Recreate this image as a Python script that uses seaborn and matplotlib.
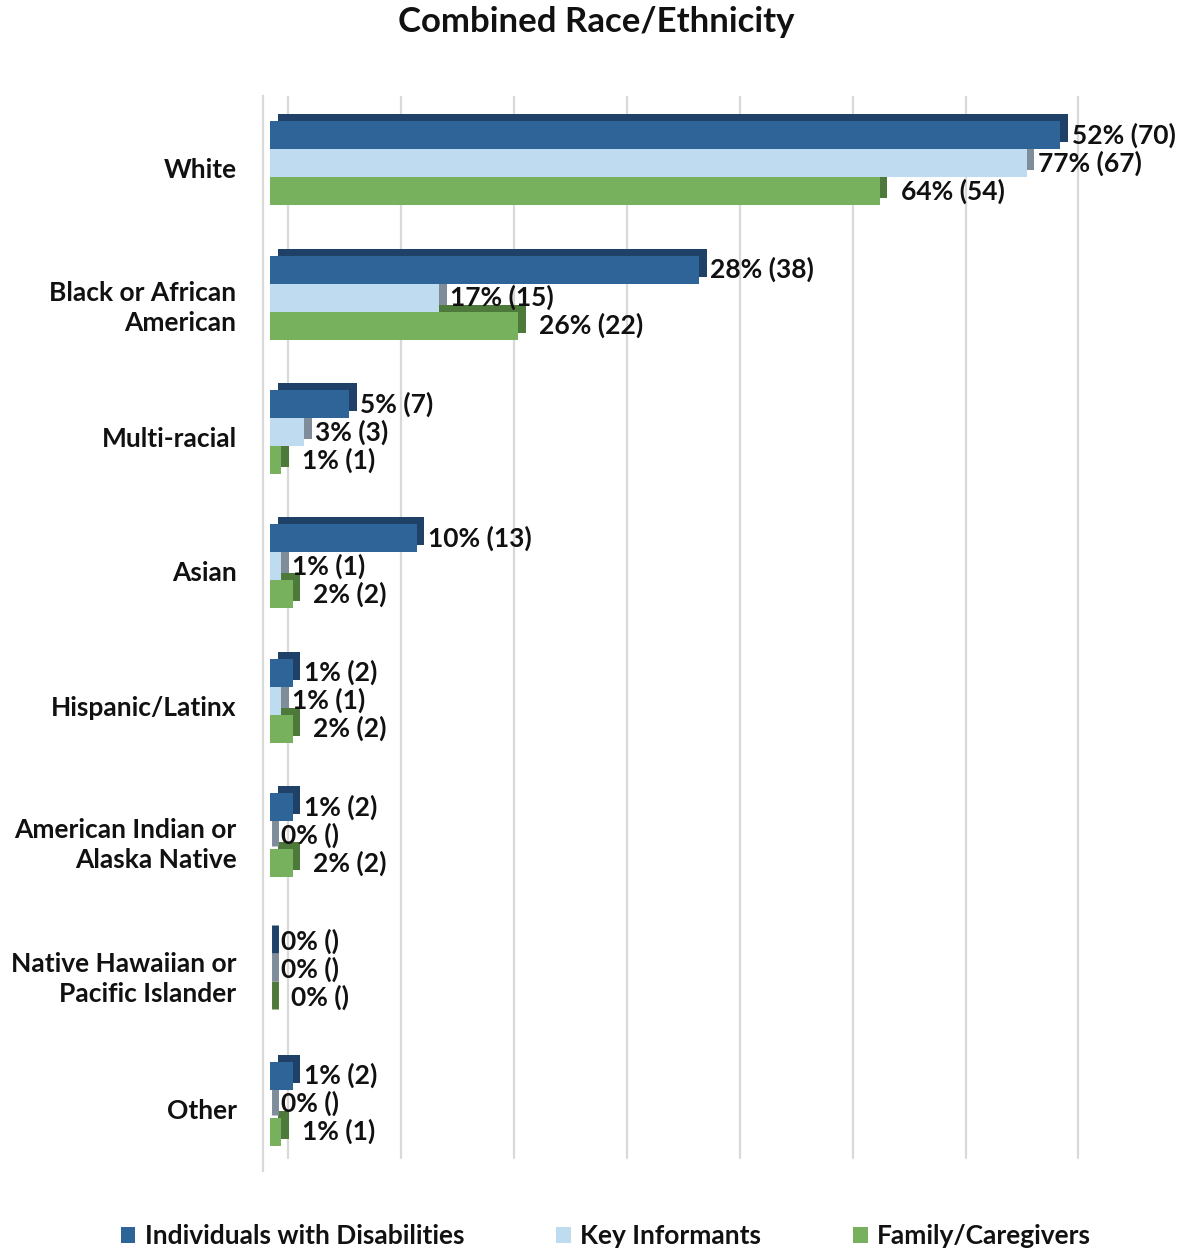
import numpy as np
import pandas as pd
import matplotlib
matplotlib.use("Agg")
import matplotlib.pyplot as plt
import matplotlib.patheffects as pe
import matplotlib.transforms as mtransforms
from matplotlib.patches import Patch
import seaborn as sns

# ---- data -------------------------------------------------------------
categories = [
    "White",
    "Black or African\nAmerican",
    "Multi-racial",
    "Asian",
    "Hispanic/Latinx",
    "American Indian or\nAlaska Native",
    "Native Hawaiian or\nPacific Islander",
    "Other",
]
groups = ["Individuals with Disabilities", "Key Informants", "Family/Caregivers"]

individuals_n = [70, 38, 7, 13, 2, 2, 0, 2]
individuals_pct = [52, 28, 5, 10, 1, 1, 0, 1]
informants_n = [67, 15, 3, 1, 1, 0, 0, 0]
informants_pct = [77, 17, 3, 1, 1, 0, 0, 0]
family_n = [54, 22, 1, 2, 2, 2, 0, 1]
family_pct = [64, 26, 1, 2, 2, 2, 0, 1]

counts = [individuals_n, informants_n, family_n]
pcts = [individuals_pct, informants_pct, family_pct]

face_colors = ["#2E6497", "#BFDBEF", "#77B15E"]
side_colors = ["#1F4168", "#7F8C9A", "#4D7A3A"]
label_pads = [8, 8, 15]
grid_color = "#D9D9D9"
text_color = "#111111"

rows = []
for g, ns in zip(groups, counts):
    for c, n in zip(categories, ns):
        rows.append({"category": c, "group": g, "count": n})
df = pd.DataFrame(rows)

# ---- style ------------------------------------------------------------
sns.set_theme(style="white")
plt.rcParams["font.family"] = ["Lato", "DejaVu Sans"]
plt.rcParams["font.weight"] = "bold"

W, H = 1180, 1249
fig = plt.figure(figsize=(W / 100, H / 100), dpi=100)
fig.patch.set_facecolor("white")
ax_left, ax_right, ax_top, ax_bottom = 263, 1100, 96, 1171
ax = fig.add_axes([ax_left / W, 1 - ax_bottom / H,
                   (ax_right - ax_left) / W, (ax_bottom - ax_top) / H])

sns.barplot(
    data=df, x="count", y="category", hue="group", hue_order=groups,
    order=categories, palette=face_colors, orient="h", width=0.625, gap=0,
    errorbar=None, saturation=1, linewidth=0, legend=False, ax=ax,
)

ax.set_xlim(-0.62, 73.5)
ax.set_ylim(len(categories) - 0.5, -0.5)
ax.set_xlabel("")
ax.set_ylabel("")

# extruded look: darker offset copy behind each bar
for i, cont in enumerate(ax.containers):
    for bar in cont:
        bar.set_zorder(3 - 0.1 * i)
        if bar.get_width() > 0:
            bar.set_path_effects([
                pe.SimplePatchShadow(offset=(5.5, 5), shadow_rgbFace=side_colors[i], alpha=1),
                pe.Normal(),
            ])
        else:
            bar.set_path_effects([
                pe.Stroke(offset=(3.5, 2), linewidth=5, foreground=side_colors[i]),
            ])
    labels = [f"{p}% ({n})" if n > 0 else f"{p}% ()" for p, n in zip(pcts[i], counts[i])]
    ax.bar_label(cont, labels=labels, padding=label_pads[i], fontsize=19,
                 fontweight="bold", color=text_color, zorder=5)

# back-wall gridlines
shift = mtransforms.ScaledTranslation(0.18, 0, fig.dpi_scale_trans)
for v in np.arange(0, 80, 10):
    ln = ax.axvline(v, ymin=0.012, color=grid_color, lw=1.6, zorder=0)
    ln.set_transform(ln.get_transform() + shift)

for s in ["top", "right", "bottom"]:
    ax.spines[s].set_visible(False)
ax.spines["left"].set_color(grid_color)
ax.spines["left"].set_linewidth(1.6)

ax.set_xticks([])
ax.tick_params(axis="y", length=0, pad=19, labelsize=19)
drop = mtransforms.ScaledTranslation(0, -0.05, fig.dpi_scale_trans)
for tick in ax.yaxis.get_major_ticks():
    t = tick.label1
    t.set_fontweight("bold")
    t.set_color(text_color)
    t.set_linespacing(1.3)
    t.set_transform(t.get_transform() + drop)

fig.text(596 / W, 1 - 22 / H, "Combined Race/Ethnicity", ha="center", va="center",
         fontsize=25, fontweight="bold", color=text_color)

handles = [Patch(facecolor=c, edgecolor="none") for c in face_colors]
fig.legend(handles, groups, loc="center", bbox_to_anchor=(606 / W, 1 - 1236 / H),
           ncol=3, frameon=False, handlelength=0.55, handleheight=0.55,
           handletextpad=0.35, columnspacing=3.5, labelcolor=text_color,
           prop={"weight": "bold", "size": 19})

fig.savefig("out.png", dpi=100, facecolor="white")
